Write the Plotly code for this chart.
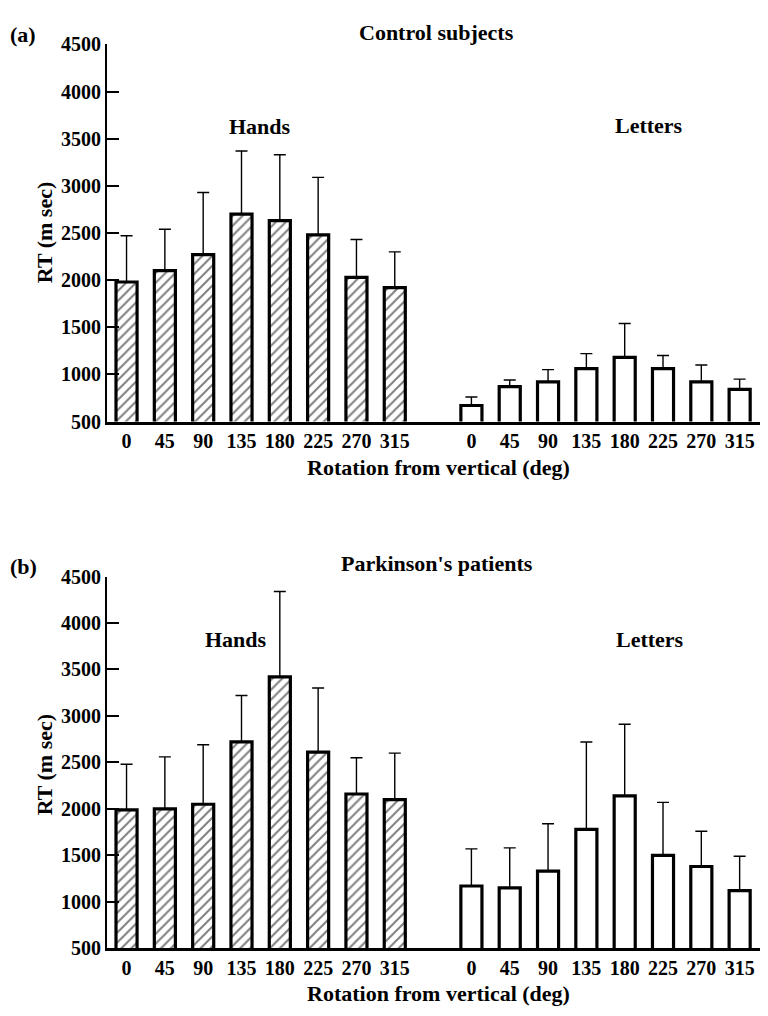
import plotly.graph_objects as go

# ---- data ----
angles = ["0", "45", "90", "135", "180", "225", "270", "315"]

# (a) Control subjects
ctrl_hands = [1980, 2100, 2270, 2700, 2630, 2480, 2030, 1920]
ctrl_hands_sd = [490, 440, 660, 670, 700, 610, 400, 380]
ctrl_letters = [670, 870, 920, 1060, 1180, 1060, 920, 840]
ctrl_letters_sd = [90, 70, 130, 160, 360, 140, 180, 110]

# (b) Parkinson's patients
pd_hands = [1990, 2000, 2050, 2720, 3420, 2610, 2160, 2100]
pd_hands_sd = [490, 560, 640, 500, 920, 690, 390, 500]
pd_letters = [1170, 1150, 1330, 1780, 2140, 1500, 1380, 1120]
pd_letters_sd = [400, 430, 510, 940, 770, 570, 380, 370]

y_ticks = [500, 1000, 1500, 2000, 2500, 3000, 3500, 4000, 4500]

# the page body has an 8px margin, so the figure is drawn 8px in from the corner
OFF = 8
W, H = 768 - OFF, 1016 - OFF
FONT = "Liberation Serif"

hand_pos = list(range(len(angles)))
letter_pos = [p + len(angles) + 1 for p in hand_pos]


def px(x):
    return (x - OFF) / W


def py(y):
    return 1 - (y - OFF) / H


fig = go.Figure()


def add_panel(hands, hands_sd, letters, letters_sd, xa, ya):
    common = dict(
        width=0.55,
        marker_line_color="black",
        marker_line_width=3.2,
        showlegend=False,
        xaxis=xa,
        yaxis=ya,
    )
    fig.add_trace(go.Bar(
        x=hand_pos, y=hands,
        marker=dict(color="white",
                    pattern=dict(shape="/", fgcolor="black", bgcolor="white",
                                 size=7, solidity=0.28)),
        error_y=dict(type="data", symmetric=False, array=hands_sd,
                     arrayminus=[0] * len(hands_sd), color="black",
                     thickness=1.4, width=6),
        **common))
    fig.add_trace(go.Bar(
        x=letter_pos, y=letters,
        marker=dict(color="white"),
        error_y=dict(type="data", symmetric=False, array=letters_sd,
                     arrayminus=[0] * len(letters_sd), color="black",
                     thickness=1.4, width=6),
        **common))


add_panel(ctrl_hands, ctrl_hands_sd, ctrl_letters, ctrl_letters_sd, "x", "y")
add_panel(pd_hands, pd_hands_sd, pd_letters, pd_letters_sd, "x2", "y2")

xr = [-0.51, 16.74]
tick_font = dict(family=FONT, size=20, color="black", weight="bold")
xaxis_common = dict(
    range=xr, domain=[px(107), 1.0],
    tickvals=hand_pos + letter_pos, ticktext=angles + angles,
    showline=True, linecolor="black", linewidth=2.5,
    ticks="", showgrid=False, zeroline=False,
    tickfont=tick_font, fixedrange=True,
)
yaxis_common = dict(
    range=[500, 4500], tickvals=y_ticks,
    showline=True, linecolor="black", linewidth=2,
    ticks="inside", ticklen=12, tickwidth=1.5, tickcolor="black",
    showgrid=False, zeroline=False, tickfont=tick_font, fixedrange=True,
)

fig.update_layout(
    width=W, height=H,
    margin=dict(l=0, r=0, t=0, b=0),
    paper_bgcolor="white", plot_bgcolor="white",
    bargap=0.45,
    xaxis=dict(anchor="y", **xaxis_common),
    yaxis=dict(anchor="x", domain=[py(419.5), py(34)], **yaxis_common),
    xaxis2=dict(anchor="y2", **xaxis_common),
    yaxis2=dict(anchor="x2", domain=[py(958), py(578)], **yaxis_common),
)

title_font = dict(family=FONT, size=22, color="black", weight="bold")


def note(text, x, y, xanchor="center", angle=0, font=title_font):
    fig.add_annotation(text=text, x=px(x), y=py(y), xref="paper", yref="paper",
                       xanchor=xanchor, yanchor="middle", showarrow=False,
                       textangle=angle, font=font)


# panel (a)
note("(a)", 8, 24, xanchor="left")
note("Control subjects", 436, 22)
note("Hands", 260, 118)
note("Letters", 649, 117)
note("RT (m sec)", 44, 227, angle=-90)
note("Rotation from vertical (deg)", 438, 467)

# panel (b)
note("(b)", 8, 568, xanchor="left")
note("Parkinson's patients", 437, 565)
note("Hands", 236, 642)
note("Letters", 650, 642)
note("RT (m sec)", 44, 771, angle=-90)
note("Rotation from vertical (deg)", 438, 1004)

fig.write_html("out.html")
